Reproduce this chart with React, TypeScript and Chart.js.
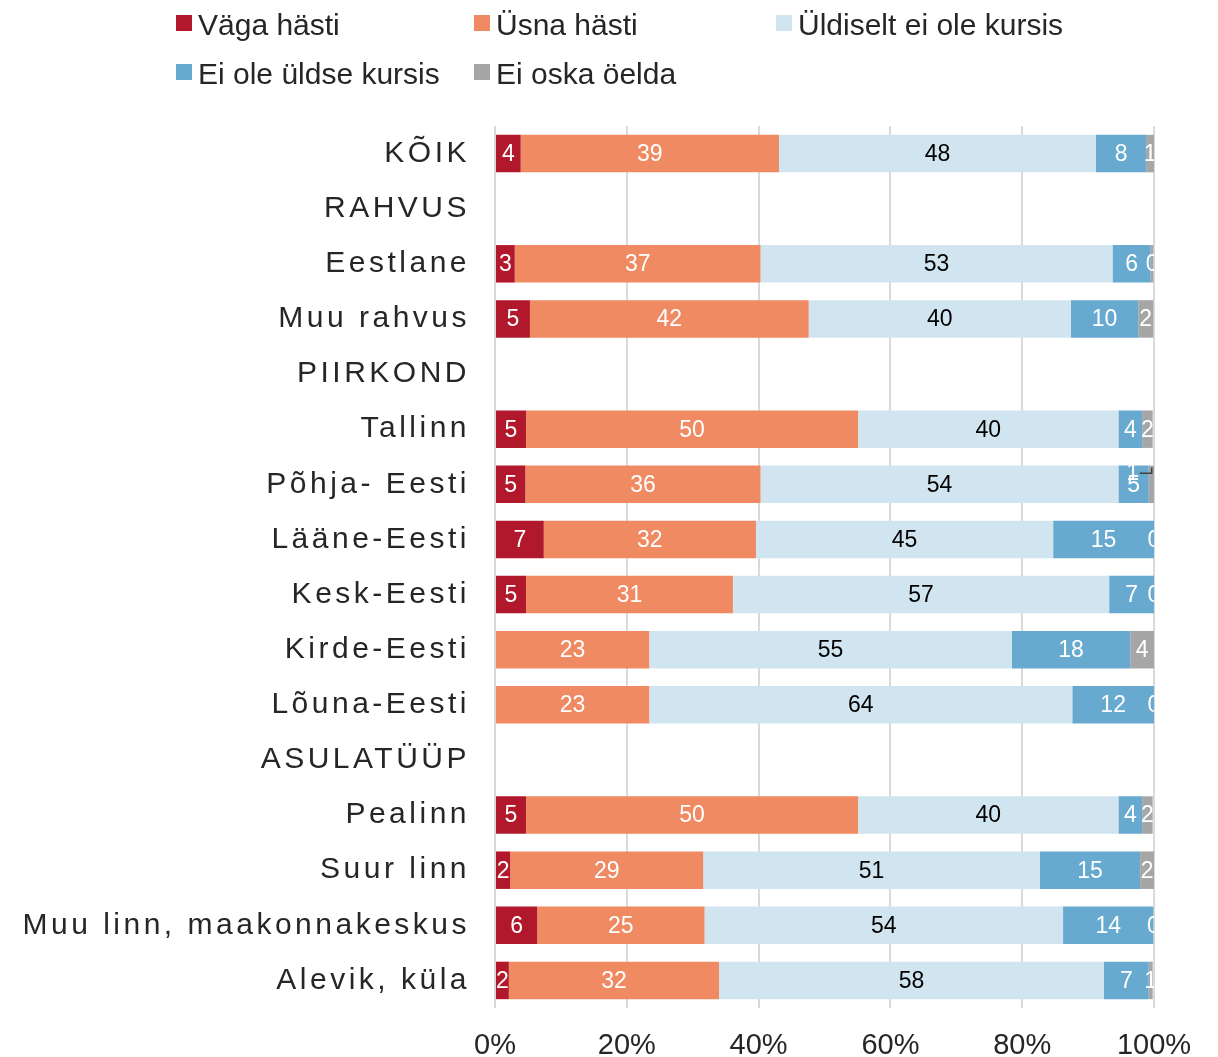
import React, { useEffect, useRef } from 'react';
import { Chart, registerables } from 'chart.js';

Chart.register(...registerables);

const categories = [
  'KÕIK', 'RAHVUS', 'Eestlane', 'Muu rahvus', 'PIIRKOND', 'Tallinn', 'Põhja- Eesti',
  'Lääne-Eesti', 'Kesk-Eesti', 'Kirde-Eesti', 'Lõuna-Eesti', 'ASULATÜÜP', 'Pealinn',
  'Suur linn', 'Muu linn, maakonnakeskus', 'Alevik, küla',
];
const seriesNames = ['Väga hästi', 'Üsna hästi', 'Üldiselt ei ole kursis', 'Ei ole üldse kursis', 'Ei oska öelda'];
const vagaHasti = [3.9, null, 3.0, 5.3, null, 4.7, 4.6, 7.4, 4.7, null, null, null, 4.7, 2.3, 6.4, 2.1];
const usnaHasti = [39.2, null, 37.3, 42.3, null, 50.4, 35.7, 32.2, 31.4, 23.4, 23.4, null, 50.4, 29.3, 25.4, 31.9];
const uldiseltEi = [48.1, null, 53.4, 39.8, null, 39.5, 54.3, 45.1, 57.1, 55.0, 64.2, null, 39.5, 51.1, 54.4, 58.4];
const eiUldse = [7.6, null, 5.8, 10.2, null, 3.6, 4.6, 15.3, 6.8, 18.0, 12.4, null, 3.6, 15.2, 13.7, 6.8];
const eiOska = [1.2, null, 0.4, 2.3, null, 1.6, 0.9, 0, 0, 3.6, 0, null, 1.6, 2.1, 0, 0.6];
const xTickValues = [0, 20, 40, 60, 80, 100];

const COLORS = ['#b2182b', '#ef8a62', '#d1e5f0', '#67a9cf', '#a6a6a6'];
const LABEL_COLORS = ['#ffffff', '#ffffff', '#000000', '#ffffff', '#ffffff'];
const FONT = '"Liberation Sans", Arial, Helvetica, sans-serif';
const TEXT = '#262626';

// callout (leader line) for the tiny segment in "Põhja- Eesti"
const CALLOUT = { category: 'Põhja- Eesti', series: 4, dx: -19, dy: -11 };

const letterSpacingPlugin = {
  id: 'ySpacing',
  beforeDraw(chart: any) {
    (chart.ctx as any).letterSpacing = '3.5px';
  },
  beforeDatasetsDraw(chart: any) {
    (chart.ctx as any).letterSpacing = '0px';
  },
  afterDraw(chart: any) {
    (chart.ctx as any).letterSpacing = '0px';
  },
};

const dataLabelPlugin = {
  id: 'segLabels',
  afterDatasetsDraw(chart: any) {
    const ctx = chart.ctx as CanvasRenderingContext2D;
    const area = chart.chartArea;
    ctx.save();
    (ctx as any).letterSpacing = '0px';
    ctx.beginPath();
    ctx.rect(area.left, area.top - 20, area.right - area.left, area.bottom - area.top + 20);
    ctx.clip();
    ctx.font = `23px ${FONT}`;
    ctx.textAlign = 'center';
    ctx.textBaseline = 'middle';
    chart.data.datasets.forEach((ds: any, di: number) => {
      const meta = chart.getDatasetMeta(di);
      meta.data.forEach((bar: any, i: number) => {
        const v = ds.data[i];
        if (v === null || v === undefined) return;
        const p = bar.getProps(['x', 'y', 'base', 'height'], true);
        let cx = (p.x + p.base) / 2;
        let cy = p.y + 1;
        const txt = String(Math.round(v));
        ctx.fillStyle = LABEL_COLORS[di];
        if (categories[i] === CALLOUT.category && di === CALLOUT.series) {
          const segX = cx;
          const top = p.y - p.height / 2;
          cx = segX + CALLOUT.dx;
          cy = p.y + CALLOUT.dy;
          ctx.fillText(txt, cx, cy);
          ctx.strokeStyle = '#404040';
          ctx.lineWidth = 1.5;
          ctx.beginPath();
          ctx.moveTo(cx + 7, cy);
          ctx.lineTo(segX, cy);
          ctx.lineTo(segX, top + 2);
          ctx.stroke();
          return;
        }
        ctx.fillText(txt, cx, cy);
      });
    });
    ctx.restore();
  },
};

const legendPlugin = {
  id: 'gridLegend',
  afterDraw(chart: any) {
    const ctx = chart.ctx as CanvasRenderingContext2D;
    const cols = [176, 474, 776];
    const rows = [35, 84];
    ctx.save();
    (ctx as any).letterSpacing = '0px';
    ctx.font = `30px ${FONT}`;
    ctx.textAlign = 'left';
    ctx.textBaseline = 'alphabetic';
    seriesNames.forEach((name, k) => {
      const x = cols[k % 3];
      const y = rows[Math.floor(k / 3)];
      ctx.fillStyle = COLORS[k];
      ctx.fillRect(x, y - 20, 16, 16);
      ctx.fillStyle = TEXT;
      ctx.fillText(name, x + 22, y);
    });
    ctx.restore();
  },
};

export default function App() {
  const ref = useRef<HTMLCanvasElement | null>(null);
  useEffect(() => {
    if (!ref.current) return;
    const series = [vagaHasti, usnaHasti, uldiseltEi, eiUldse, eiOska];
    const chart = new Chart(ref.current, {
      type: 'bar',
      data: {
        labels: categories,
        datasets: series.map((d, k) => ({
          label: seriesNames[k],
          data: d as any,
          backgroundColor: COLORS[k],
          borderWidth: 0,
          barPercentage: 1,
          categoryPercentage: 0.68,
        })),
      },
      options: {
        indexAxis: 'y',
        responsive: false,
        animation: false,
        devicePixelRatio: 1,
        layout: { padding: { top: 126, right: 64, left: 0, bottom: 0 } },
        plugins: {
          legend: { display: false },
          title: { display: false },
          tooltip: { enabled: false },
        },
        scales: {
          x: {
            stacked: true,
            min: 0,
            max: 100,
            afterBuildTicks: (s: any) => {
              s.ticks = xTickValues.map((v) => ({ value: v }));
            },
            ticks: {
              callback: (v: any) => `${v}%`,
              font: { size: 29, family: FONT },
              color: TEXT,
              padding: 21,
              z: 1,
              maxRotation: 0,
            } as any,
            grid: { color: '#dadada', lineWidth: 2, drawTicks: false },
            border: { display: false },
            afterFit: (s: any) => {
              s.height = 49;
            },
          },
          y: {
            stacked: true,
            grid: { display: false, drawTicks: false },
            border: { display: false },
            ticks: {
              font: { size: 30, family: FONT },
              color: TEXT,
              padding: 25,
              autoSkip: false,
            },
            afterFit: (s: any) => {
              s.width = 495;
            },
          },
        },
      },
      plugins: [letterSpacingPlugin, dataLabelPlugin, legendPlugin],
    });
    return () => chart.destroy();
  }, []);
  return (
    <div style={{ position: 'fixed', left: 0, top: 0, width: 1218, height: 1057, background: '#fff' }}>
      <canvas ref={ref} width={1218} height={1057} style={{ width: 1218, height: 1057, display: 'block' }} />
    </div>
  );
}
